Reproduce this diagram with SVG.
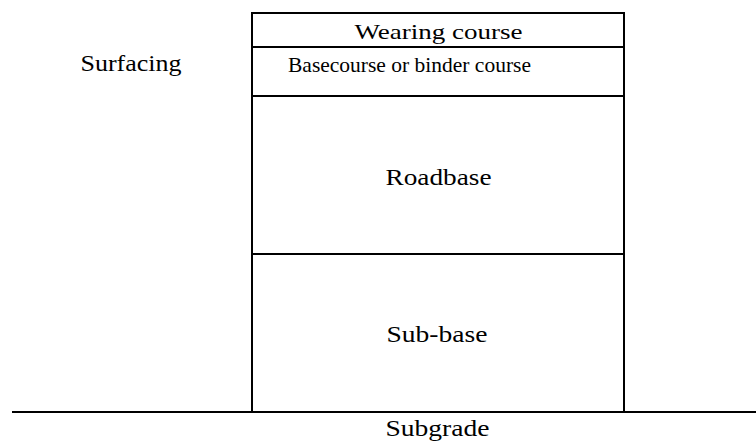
<svg xmlns="http://www.w3.org/2000/svg" width="756" height="444" viewBox="0 0 756 444">
<style>
.ln{stroke:#000;stroke-width:2;fill:none}
text{font-family:"Liberation Serif","Times New Roman",serif;font-size:24px;fill:#000;text-anchor:middle}
.sm{font-size:22px}
</style>
<rect x="0" y="0" width="756" height="444" fill="#fff"/>
<g id="connectors">
<rect class="ln" x="252" y="13" width="372" height="399"/>
<line class="ln" x1="252" y1="47" x2="624" y2="47"/>
<line class="ln" x1="252" y1="96" x2="624" y2="96"/>
<line class="ln" x1="252" y1="254" x2="624" y2="254"/>
<line class="ln" x1="12" y1="412" x2="756" y2="412"/>
</g>
<g id="surfacing"><text x="131" y="71" textLength="101" lengthAdjust="spacingAndGlyphs">Surfacing</text></g>
<g id="wearing"><text class="sm" x="438.5" y="39" textLength="168" lengthAdjust="spacingAndGlyphs">Wearing course</text></g>
<g id="basecourse"><text class="sm" x="409.5" y="72" textLength="243" lengthAdjust="spacingAndGlyphs">Basecourse or binder course</text></g>
<g id="roadbase"><text x="438.5" y="185" textLength="106" lengthAdjust="spacingAndGlyphs">Roadbase</text></g>
<g id="subbase"><text x="437" y="342" textLength="101" lengthAdjust="spacingAndGlyphs">Sub-base</text></g>
<g id="subgrade"><text x="437.5" y="436" textLength="104" lengthAdjust="spacingAndGlyphs">Subgrade</text></g>
</svg>
